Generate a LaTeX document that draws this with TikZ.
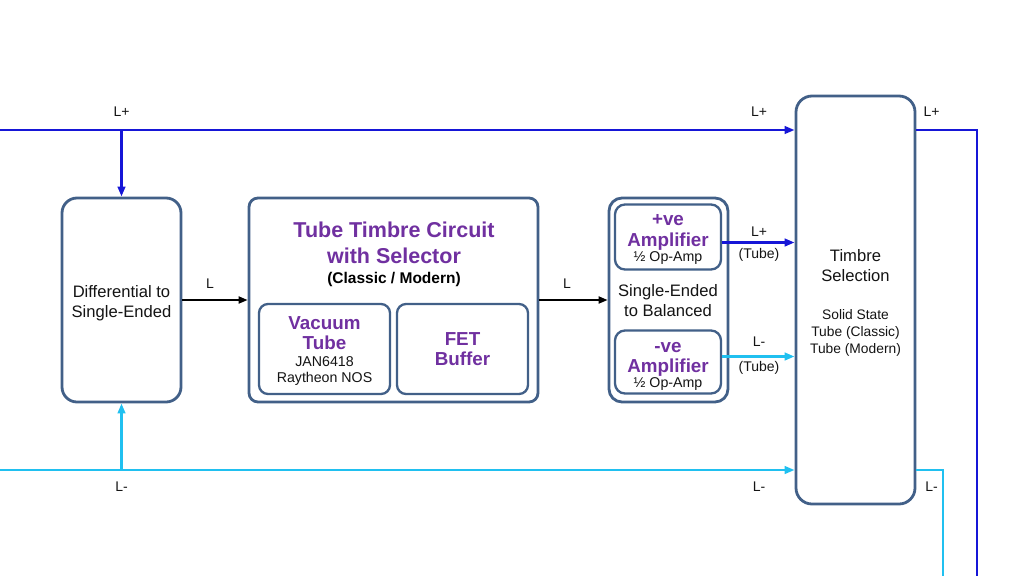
\documentclass[tikz,border=0pt]{standalone}
\usepackage{fontspec}
\setmainfont{Liberation Sans}
\usetikzlibrary{arrows.meta}
\definecolor{boxc}{RGB}{66,96,136}
\definecolor{lblue}{RGB}{22,22,215}
\definecolor{lcyan}{RGB}{32,192,240}
\definecolor{tpurple}{RGB}{112,48,160}
\definecolor{txtc}{RGB}{20,20,20}
\begin{document}
\begin{tikzpicture}[x=1pt,y=-1pt,
  box/.style={draw=boxc, line width=2.8pt, rounded corners=#1, inner sep=0pt, fill=white},
  ibox/.style={draw=boxc, line width=2.3pt, rounded corners=#1, inner sep=0pt},
  arr/.style={-{Triangle[length=10pt,width=7.5pt]}},
  sig/.style={line width=2.9pt},
  blu/.style={sig, draw=lblue, color=lblue},
  cya/.style={sig, draw=lcyan, color=lcyan},
  blk/.style={line width=1.9pt, draw=black, -{Triangle[length=9pt,width=7pt]}},
  t/.style={inner sep=0pt, anchor=base, text=txtc, font=\fontsize{#1}{#1}\selectfont},
  tb/.style={inner sep=0pt, anchor=base, text=tpurple, font=\fontsize{#1}{#1}\selectfont\bfseries},
  lab/.style={inner sep=0pt, anchor=base, text=txtc, font=\fontsize{14}{14}\selectfont}
]
\useasboundingbox (0,0) rectangle (1024,576);

% boxes
\node[box=15pt, minimum width=119pt, minimum height=204pt] (diff) at (121.5,300) {};
\node[box=9pt, minimum width=289pt, minimum height=204pt] (ttc) at (393.5,300) {};
\node[ibox=9pt, minimum width=131pt, minimum height=90pt] (vt) at (324.5,349) {};
\node[ibox=9pt, minimum width=131pt, minimum height=90pt] (fet) at (462.5,349) {};
\node[box=13pt, minimum width=119pt, minimum height=204pt] (seb) at (668.5,300) {};
\node[ibox=10pt, minimum width=106pt, minimum height=65pt] (pamp) at (668,237) {};
\node[ibox=10pt, minimum width=106pt, minimum height=63pt] (namp) at (668,362) {};
\node[box=16pt, minimum width=119pt, minimum height=408pt] (timb) at (855.5,300) {};

% texts
\node[t=16.6] (d1) at (121.5,297) {Differential to};
\node[t=16.6] (d2) at (121.5,317) {Single-Ended};

\node[tb=21.5] (tt1) at (394,237) {Tube Timbre Circuit};
\node[tb=21.5] (tt2) at (394,263) {with Selector};
\node[t=15.5, font=\fontsize{15.5}{15.5}\selectfont\bfseries, text=black] (tt3) at (394,283.5) {(Classic / Modern)};

\node[tb=18.8] (v1) at (324.5,329.5) {Vacuum};
\node[tb=18.8] (v2) at (324.5,349.5) {Tube};
\node[t=14.2] (v3) at (324.5,366.7) {JAN6418};
\node[t=14.2] (v4) at (324.5,382.7) {Raytheon NOS};

\node[tb=18.8] (f1) at (462.5,345.3) {FET};
\node[tb=18.8] (f2) at (462.5,365.7) {Buffer};

\node[tb=18.8] (p1) at (668,225) {+ve};
\node[tb=18.8] (p2) at (668,246) {Amplifier};
\node[t=14.2] (p3) at (668,261.7) {½ Op-Amp};

\node[t=16.6] (s1) at (668,296) {Single-Ended};
\node[t=16.6] (s2) at (668,316) {to Balanced};

\node[tb=18.8] (n1) at (668,352.3) {-ve};
\node[tb=18.8] (n2) at (668,372.3) {Amplifier};
\node[t=14.2] (n3) at (668,387.7) {½ Op-Amp};

\node[t=16.6] (ts1) at (855.5,261) {Timbre};
\node[t=16.6] (ts2) at (855.5,281) {Selection};
\node[t=13.8] (ts3) at (855.5,319) {Solid State};
\node[t=13.8] (ts4) at (855.5,336) {Tube (Classic)};
\node[t=13.8] (ts5) at (855.5,353) {Tube (Modern)};

% signal lines
\coordinate (lpl) at (0,130);
\coordinate (lmi) at (0,470);
\coordinate (bp) at (121.5,130);
\coordinate (bm) at (121.5,470);
\coordinate (op) at (977,576);
\coordinate (om) at (943,576);
\coordinate (pl) at (0,242.5);
\coordinate (nl) at (0,356.5);

\draw[blu, arr] (lpl) -- (lpl -| timb.west);
\draw[blu, arr] (bp) -- (diff.north);
\draw[cya, arr] (lmi) -- (lmi -| timb.west);
\draw[cya, arr] (bm) -- (diff.south);
\draw[blu] (timb.east |- lpl) -- (op |- lpl) -- (op);
\draw[cya] (timb.east |- lmi) -- (om |- lmi) -- (om);

\draw[blk] (diff.east) -- (ttc.west);
\draw[blk] (ttc.east) -- (seb.west);
\draw[blu, arr] (pamp.east |- pl) -- (timb.west |- pl);
\draw[cya, arr] (namp.east |- nl) -- (timb.west |- nl);

% labels
\node[lab] (l1) at (121.5,116.5) {L+};
\node[lab] (l2) at (759,116.5) {L+};
\node[lab] (l3) at (931.5,116.5) {L+};
\node[lab] (l4) at (121.5,491) {L-};
\node[lab] (l5) at (759,491) {L-};
\node[lab] (l6) at (931.5,491) {L-};
\node[lab] (l7) at (210,288) {L};
\node[lab] (l8) at (567,288) {L};
\node[lab] (l9) at (759,236) {L+};
\node[lab] (l10) at (759,258.5) {(Tube)};
\node[lab] (l11) at (759,346.5) {L-};
\node[lab] (l12) at (759,371) {(Tube)};
\end{tikzpicture}
\end{document}
